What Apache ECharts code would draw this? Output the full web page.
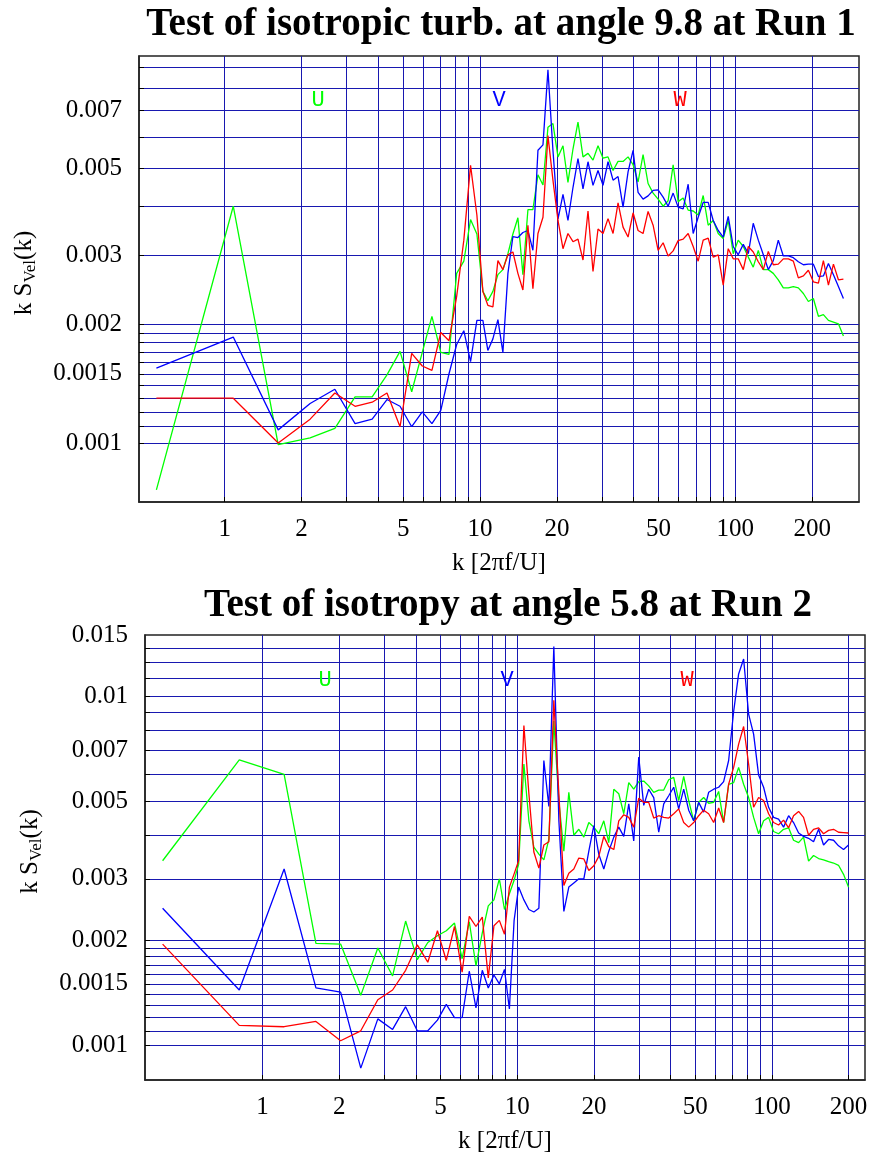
<!DOCTYPE html>
<html>
<head>
<meta charset="utf-8">
<script src="https://cdn.jsdelivr.net/npm/echarts@6/dist/echarts.min.js"></script>
<style>
  html, body { margin: 0; padding: 0; background: #ffffff; }
  #chart { width: 873px; height: 1161px; }
</style>
</head>
<body>
<div id="chart"></div>
<script>
// Wavenumbers of the spectral estimates, Run 1
const kRun1 = [0.54, 1.08, 1.62, 2.16, 2.70, 3.24, 3.78, 4.32, 4.86, 5.40, 5.94, 6.48, 7.02, 7.56, 8.10, 8.64, 9.18, 9.72,
  10.26, 10.73, 11.23, 11.75, 12.29, 12.86, 13.45, 14.07, 14.72, 15.40, 16.11, 16.86, 17.64, 18.45, 19.30, 20.20, 21.13, 22.10,
  23.13, 24.19, 25.31, 26.48, 27.70, 28.98, 30.32, 31.72, 33.19, 34.72, 36.32, 38.00, 39.76, 41.59, 43.51, 45.52, 47.63, 49.83,
  52.13, 54.54, 57.06, 59.69, 62.45, 65.34, 68.36, 71.52, 74.82, 78.28, 81.90, 85.68, 89.64, 93.78, 98.11, 102.6, 107.4, 112.4,
  117.5, 123.0, 128.7, 134.6, 140.8, 147.3, 154.1, 161.3, 168.7, 176.5, 184.7, 193.2, 202.1, 211.5, 221.2, 231.5, 242.2, 253.3, 265.0];

// k S_vel(k) for the U, V, W components, Run 1
const uRun1 = [0.00076, 0.0040, 0.00099, 0.00103, 0.00109, 0.00131, 0.00131, 0.00149, 0.00171, 0.00135, 0.0017, 0.0021, 0.0017, 0.00168, 0.0027, 0.0029, 0.0037, 0.0034,
  0.00243, 0.0023, 0.00243, 0.00268, 0.00276, 0.00303, 0.0034, 0.00374, 0.00268, 0.00392, 0.00392, 0.00481, 0.00453, 0.00635, 0.00649, 0.00534,
  0.0057, 0.0046, 0.0056, 0.00655, 0.00534, 0.00545, 0.00524, 0.0057, 0.0053, 0.00534, 0.00493, 0.0052, 0.0052, 0.00534, 0.0051, 0.00461,
  0.00541, 0.00457, 0.00432, 0.00417, 0.004, 0.00413, 0.0051, 0.00411, 0.0042, 0.00391, 0.00389, 0.0038, 0.00426, 0.00358, 0.00368, 0.00341,
  0.00331, 0.00368, 0.00303, 0.00328, 0.00316, 0.00297, 0.0028, 0.00309, 0.00276, 0.00276, 0.0027, 0.0026, 0.00248, 0.00248, 0.0025, 0.00248,
  0.0024, 0.00229, 0.00233, 0.0021, 0.00212, 0.00205, 0.00203, 0.00201, 0.00187];
const vRun1 = [0.00155, 0.00186, 0.00108, 0.00126, 0.00137, 0.00112, 0.00115, 0.00129, 0.00124, 0.0011, 0.0012, 0.00112, 0.00121, 0.0015, 0.00178, 0.00193, 0.00161, 0.00205,
  0.00205, 0.00172, 0.00184, 0.00206, 0.0017, 0.0027, 0.00335, 0.00333, 0.00343, 0.00347, 0.00309, 0.00555, 0.00573, 0.00889, 0.00555, 0.00371,
  0.00429, 0.00368, 0.00447, 0.00529, 0.00443, 0.00519, 0.00452, 0.00493, 0.00452, 0.00519, 0.00466, 0.00476, 0.00398, 0.00489, 0.00555, 0.00434,
  0.00417, 0.00425, 0.00439, 0.0044, 0.00422, 0.004, 0.00432, 0.00398, 0.00394, 0.00455, 0.00341, 0.00375, 0.00409, 0.00409, 0.00368, 0.00347,
  0.00334, 0.00377, 0.00316, 0.00301, 0.0032, 0.00303, 0.00362, 0.00328, 0.00301, 0.00276, 0.00291, 0.00328, 0.00299, 0.00299, 0.00296, 0.00289,
  0.00284, 0.00285, 0.00285, 0.00265, 0.00266, 0.00286, 0.00268, 0.0025, 0.00233];
const wRun1 = [0.0013, 0.0013, 0.001, 0.00115, 0.00134, 0.00124, 0.00127, 0.00134, 0.0011, 0.00169, 0.00157, 0.00153, 0.00191, 0.00182, 0.00236, 0.00328, 0.00508, 0.0038,
  0.00243, 0.00224, 0.00222, 0.00291, 0.00276, 0.00301, 0.00306, 0.0027, 0.00245, 0.00358, 0.00247, 0.00341, 0.00375, 0.00605, 0.00466, 0.00368,
  0.00312, 0.00341, 0.00325, 0.0033, 0.00292, 0.00389, 0.00273, 0.0035, 0.00341, 0.00372, 0.00341, 0.00408, 0.00354, 0.00334, 0.00385, 0.00347,
  0.00341, 0.00388, 0.00358, 0.00309, 0.00323, 0.00299, 0.00308, 0.00327, 0.0033, 0.00341, 0.00316, 0.0029, 0.00328, 0.00332, 0.00297, 0.00301,
  0.00252, 0.00312, 0.00294, 0.00294, 0.00276, 0.00316, 0.00306, 0.00289, 0.00276, 0.00307, 0.00284, 0.00285, 0.00294, 0.00294, 0.0029, 0.00263,
  0.00266, 0.00275, 0.00257, 0.00255, 0.00291, 0.00252, 0.00285, 0.0026, 0.00261];

// Wavenumbers of the spectral estimates, Run 2
const kRun2 = [0.405, 0.81, 1.215, 1.62, 2.025, 2.43, 2.835, 3.24, 3.645, 4.05, 4.455, 4.86, 5.265, 5.67, 6.075, 6.48, 6.885, 7.29,
  7.695, 8.1, 8.505, 8.91, 9.315, 9.72, 10.125,
  10.62, 11.11, 11.62, 12.16, 12.72, 13.31, 13.92, 14.57, 15.24, 15.94, 16.68, 17.45, 18.26, 19.10, 19.98, 20.90, 21.87, 22.88,
  23.94, 25.04, 26.20, 27.41, 28.67, 30.00, 31.38, 32.83, 34.35, 35.94, 37.60, 39.33, 41.15, 43.05, 45.04, 47.12, 49.29, 51.57,
  53.95, 56.44, 59.05, 61.78, 64.63, 67.62, 70.74, 74.01, 77.43, 81.00, 84.75, 88.66, 92.76, 97.04, 101.5, 106.2, 111.1, 116.3,
  121.6, 127.3, 133.1, 139.3, 145.7, 152.5, 159.5, 166.9, 174.6, 182.6, 191.1, 199.9];

// k S_vel(k) for the U, V, W components, Run 2
const uRun2 = [0.00338, 0.00658, 0.00598, 0.00196, 0.00195, 0.00139, 0.0019, 0.00158, 0.00227, 0.00176, 0.00197, 0.00206, 0.00213, 0.00224,
  0.00177, 0.00226, 0.00169, 0.0021, 0.00251, 0.00261, 0.003, 0.00245, 0.00272, 0.00297, 0.0033,
  0.0064, 0.0044, 0.0037, 0.00353, 0.0034, 0.0039, 0.0085, 0.005, 0.0036, 0.00531, 0.004, 0.00416, 0.00395, 0.00435, 0.00422, 0.00404,
  0.0044, 0.00381, 0.00542, 0.00526, 0.00461, 0.00566, 0.00542, 0.0057, 0.00572, 0.00554, 0.00531, 0.00539, 0.00539, 0.00577, 0.00586,
  0.00503, 0.0059, 0.00503, 0.0044, 0.00497, 0.00513, 0.00494, 0.00497, 0.00534, 0.00435, 0.0056, 0.00566, 0.00626, 0.0056, 0.00513,
  0.0045, 0.00404, 0.0044, 0.0045, 0.0041, 0.00404, 0.00416, 0.0042, 0.00387, 0.00381, 0.00395, 0.00337, 0.0035, 0.00343, 0.0034,
  0.00336, 0.00333, 0.00328, 0.00309, 0.00284];
const vRun2 = [0.00247, 0.00144, 0.0032, 0.00146, 0.00142, 0.00086, 0.00119, 0.00111, 0.00129, 0.0011, 0.0011, 0.00118, 0.00131, 0.0012,
  0.0012, 0.00163, 0.00128, 0.00164, 0.00146, 0.00159, 0.0015, 0.00165, 0.00127, 0.00228, 0.00284,
  0.00261, 0.00245, 0.00241, 0.00247, 0.00655, 0.00484, 0.0139, 0.0044, 0.00242, 0.00284, 0.00292, 0.003, 0.003, 0.0036, 0.00426, 0.00353,
  0.0032, 0.0036, 0.00395, 0.00422, 0.00397, 0.00492, 0.00385, 0.0067, 0.00487, 0.00542, 0.00513, 0.00408, 0.00492, 0.00519, 0.00549,
  0.00476, 0.00542, 0.00472, 0.0044, 0.00497, 0.00466, 0.00531, 0.00542, 0.00549, 0.0057, 0.00655, 0.00905, 0.0116, 0.0128, 0.0089,
  0.0078, 0.00595, 0.00549, 0.00481, 0.0045, 0.00445, 0.00422, 0.00455, 0.00435, 0.00406, 0.00397, 0.00392, 0.00383, 0.00416, 0.00375,
  0.00389, 0.00387, 0.00373, 0.00364, 0.00375];
const wRun2 = [0.00195, 0.00114, 0.00113, 0.00117, 0.00103, 0.0011, 0.00135, 0.00144, 0.00164, 0.00194, 0.00173, 0.00213, 0.00175, 0.00219,
  0.00162, 0.00234, 0.00219, 0.00233, 0.00156, 0.0022, 0.00228, 0.00208, 0.00284, 0.0031, 0.00338,
  0.00825, 0.00526, 0.00358, 0.00322, 0.00375, 0.00383, 0.00975, 0.00526, 0.00287, 0.00311, 0.0032, 0.00344, 0.00342, 0.00317, 0.00327,
  0.00348, 0.00397, 0.00371, 0.00364, 0.0044, 0.00458, 0.0045, 0.00422, 0.00511, 0.00497, 0.00497, 0.00448, 0.00455, 0.0045, 0.00448,
  0.00461, 0.00476, 0.00435, 0.00422, 0.00435, 0.00455, 0.00472, 0.00461, 0.00435, 0.00479, 0.00435, 0.0056, 0.00626, 0.0073, 0.0082,
  0.0064, 0.00481, 0.00513, 0.00503, 0.00461, 0.00435, 0.00428, 0.00442, 0.0042, 0.00455, 0.00468, 0.0045, 0.004, 0.00416, 0.0042,
  0.00404, 0.00413, 0.00416, 0.00408, 0.00407, 0.00406];

// Axis labels and grid positions
const xLabelValues = [1, 2, 5, 10, 20, 50, 100, 200];
const xGridRun1 = [1, 2, 3, 4, 5, 6, 7, 8, 9, 10, 20, 30, 40, 50, 60, 70, 80, 90, 100, 200];
const xGridRun2 = [1, 2, 3, 4, 5, 6, 7, 8, 9, 10, 20, 30, 40, 50, 60, 70, 80, 90, 100, 200];
const yLabelRun1 = [0.001, 0.0015, 0.002, 0.003, 0.005, 0.007];
const yLabelRun2 = [0.001, 0.0015, 0.002, 0.003, 0.005, 0.007, 0.01, 0.015];
const yGridRun1 = [0.001, 0.0011, 0.0012, 0.0013, 0.0014, 0.0015, 0.0016, 0.0017, 0.0018, 0.0019,
  0.002, 0.003, 0.004, 0.005, 0.006, 0.007, 0.008, 0.009];
const yGridRun2 = [0.001, 0.0011, 0.0012, 0.0013, 0.0014, 0.0015, 0.0016, 0.0017, 0.0018, 0.0019,
  0.002, 0.003, 0.004, 0.005, 0.006, 0.007, 0.008, 0.009, 0.01, 0.01125, 0.0125, 0.01375];

const SERIF = '"Liberation Serif", "Times New Roman", serif';
const MONO = '"Liberation Mono", "DejaVu Sans Mono", monospace';
const GRID_COLOR = '#1818b0';
const COLORS = { U: '#00ff00', V: '#0000ff', W: '#ff0000' };

function xAxis(gridIndex, min, max, gridValues) {
  return {
    type: 'log', logBase: 10, gridIndex, min, max,
    name: 'k [2πf/U]', nameLocation: 'middle', nameGap: 49,
    nameTextStyle: { fontFamily: SERIF, fontSize: 25, color: '#000' },
    axisLine: { show: true, lineStyle: { color: '#222', width: 1.5 } },
    axisTick: { show: true, inside: true, length: 5, customValues: gridValues, lineStyle: { color: '#000' } },
    splitLine: { show: true, lineStyle: { color: GRID_COLOR, width: 1 } },
    minorTick: { show: false }, minorSplitLine: { show: false },
    axisLabel: {
      customValues: xLabelValues, margin: 15,
      fontFamily: SERIF, fontSize: 25, color: '#000',
      formatter: v => String(Math.round(v))
    }
  };
}

function yAxis(gridIndex, min, max, gridValues, labelValues) {
  return {
    type: 'log', logBase: 10, gridIndex, min, max,
    name: '{m|k S}{s|Vel}{m|(k)}', nameLocation: 'middle', nameGap: 100, nameRotate: 90,
    nameTextStyle: {
      color: '#000', padding: [0, 0, 0, 12],
      rich: {
        m: { fontFamily: SERIF, fontSize: 25, lineHeight: 30, color: '#000' },
        s: { fontFamily: SERIF, fontSize: 17, lineHeight: 22, verticalAlign: 'bottom', color: '#000' }
      }
    },
    axisLine: { show: true, lineStyle: { color: '#222', width: 1.5 } },
    axisTick: { show: true, inside: true, length: 5, customValues: gridValues, lineStyle: { color: '#000' } },
    splitLine: { show: true, lineStyle: { color: GRID_COLOR, width: 1 } },
    minorTick: { show: false }, minorSplitLine: { show: false },
    axisLabel: {
      customValues: labelValues, margin: 17,
      fontFamily: SERIF, fontSize: 25, color: '#000',
      formatter: v => String(parseFloat(Number(v).toPrecision(4)))
    }
  };
}

function line(name, axisIndex, ks, vals) {
  return {
    type: 'line', name, xAxisIndex: axisIndex, yAxisIndex: axisIndex,
    data: ks.map((k, i) => [k, vals[i]]),
    showSymbol: false, symbol: 'none', clip: true, z: 3,
    lineStyle: { color: COLORS[name], width: 1.3 },
    itemStyle: { color: COLORS[name] }
  };
}

function tag(text, x, y) {
  return {
    type: 'text', x, y, z: 10,
    style: { text, fill: COLORS[text], font: '22px ' + MONO, align: 'center', verticalAlign: 'middle' }
  };
}

const chart = echarts.init(document.getElementById('chart'), null, { renderer: 'canvas' });
chart.setOption({
  animation: false,
  backgroundColor: '#ffffff',
  title: [
    { text: 'Test of isotropic turb. at angle 9.8 at Run 1', left: 496, top: 0, textAlign: 'center',
      textStyle: { fontFamily: SERIF, fontWeight: 'bold', fontSize: 39, color: '#000' } },
    { text: 'Test of isotropy at angle 5.8 at Run 2', left: 503, top: 581, textAlign: 'center',
      textStyle: { fontFamily: SERIF, fontWeight: 'bold', fontSize: 39, color: '#000' } }
  ],
  grid: [
    { left: 139, top: 56, width: 720, height: 446, show: true, borderColor: '#222', borderWidth: 1.5, backgroundColor: '#fff' },
    { left: 145, top: 635, width: 720, height: 445, show: true, borderColor: '#222', borderWidth: 1.5, backgroundColor: '#fff' }
  ],
  xAxis: [xAxis(0, 0.4616, 305, xGridRun1), xAxis(1, 0.3454, 232, xGridRun2)],
  yAxis: [yAxis(0, 0.000708, 0.00964, yGridRun1, yLabelRun1), yAxis(1, 0.000795, 0.015, yGridRun2, yLabelRun2)],
  series: [
    line('U', 0, kRun1, uRun1), line('V', 0, kRun1, vRun1), line('W', 0, kRun1, wRun1),
    line('U', 1, kRun2, uRun2), line('V', 1, kRun2, vRun2), line('W', 1, kRun2, wRun2)
  ],
  graphic: [
    tag('U', 318, 100), tag('V', 499, 100), tag('W', 680, 100),
    tag('U', 325, 680), tag('V', 507, 680), tag('W', 687, 680)
  ]
});
</script>
</body>
</html>
